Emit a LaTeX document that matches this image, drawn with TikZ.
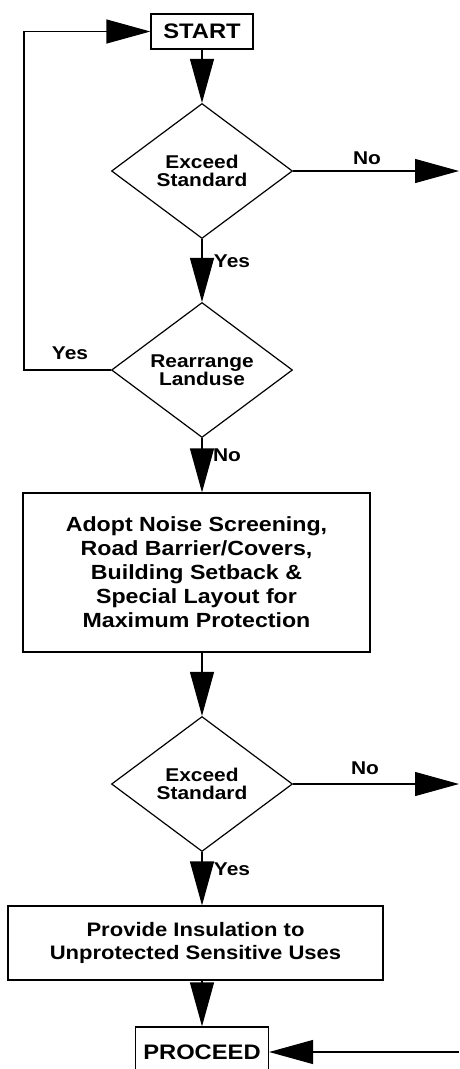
\documentclass[tikz,border=0pt]{standalone}
\usepackage{fontspec}
\setmainfont{Liberation Sans}[FakeStretch=1.13]
\usetikzlibrary{arrows.meta, shapes.geometric}
\tikzset{%
  terminal/.style={draw, line width=1.2pt, minimum width=102pt, minimum height=35pt, inner sep=0pt,
    font=\bfseries\fontsize{21}{24}\selectfont},
  decision/.style={draw, diamond, line width=1.2pt, minimum width=181pt, minimum height=135pt,
    inner sep=0pt, align=center, font=\bfseries\fontsize{18.5}{17.5}\selectfont},
  process/.style={draw, rectangle, line width=1.2pt, inner sep=0pt, align=center},
  answer/.style={inner sep=0pt, font=\bfseries\fontsize{18.5}{20}\selectfont},
  move/.style={line width=1.2pt, -{Triangle[length=44pt, width=24pt]}},
}
\begin{document}
\begin{tikzpicture}[x=1pt, y=-1pt]
  \useasboundingbox (0,0) rectangle (459,1069);
  \node[terminal] (start) at (202,31.5) {START};
  \node[decision] (exceed1) at (202,171) {Exceed\\Standard};
  \node[decision] (rearrange) at (202,370) {Rearrange\\Landuse};
  \node[process, minimum width=347pt, minimum height=159pt,
    font=\bfseries\fontsize{20.5}{24}\selectfont] (screen) at (196.5,572.5)
    {Adopt Noise Screening,\\Road Barrier/Covers,\\Building Setback \&\\Special Layout for\\Maximum Protection};
  \node[decision] (exceed2) at (202,784) {Exceed\\Standard};
  \node[process, minimum width=375pt, minimum height=74pt,
    font=\bfseries\fontsize{19.5}{23}\selectfont] (insulate) at (195.5,943)
    {Provide Insulation to\\Unprotected Sensitive Uses};
  \node[terminal, minimum width=133pt, minimum height=50pt] (proceed) at (202,1052) {PROCEED};
  \coordinate (out1) at (459,171);
  \coordinate (out2) at (459,784);
  \coordinate (in3) at (459,1052);
  % main flow
  \draw[move] (start) -- (exceed1);
  \draw[move] (exceed1) -- (rearrange);
  \draw[move] (rearrange) -- (rearrange |- screen.north);
  \draw[move] (exceed2 |- screen.south) -- (exceed2);
  \draw[move] (exceed2) -- (exceed2 |- insulate.north);
  \draw[move] (proceed |- insulate.south) -- (proceed);
  % side branches
  \draw[move] (exceed1) -- (out1);
  \draw[move] (exceed2) -- (out2);
  \draw[move] (in3) -- (proceed);
  \draw[move] (rearrange.west) -- ++(-87,0) |- (start.west);
  % answers
  \node[answer] (no1) at (367,158) {No};
  \node[answer] (yes1) at (232,261) {Yes};
  \node[answer] (yes2) at (70,353) {Yes};
  \node[answer] (no2) at (227,455) {No};
  \node[answer] (no3) at (365,768) {No};
  \node[answer] (yes3) at (232,869) {Yes};
\end{tikzpicture}
\end{document}
